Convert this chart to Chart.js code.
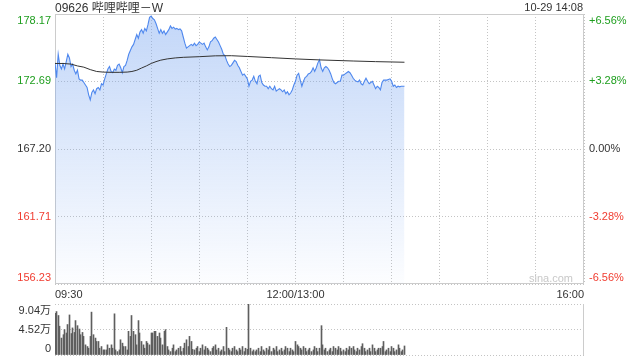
<!DOCTYPE html>
<html><head><meta charset="utf-8">
<script src="https://cdn.jsdelivr.net/npm/chart.js@4.4.1/dist/chart.umd.min.js"></script>
<style>
html,body{margin:0;padding:0;background:#fff;width:640px;height:360px;overflow:hidden;font-family:"Liberation Sans",Arial,"Noto Sans CJK SC",sans-serif;}
#title{position:absolute;left:55px;top:0px;font-size:12px;color:#333;line-height:16px;white-space:nowrap;}
#time{position:absolute;right:57px;top:0px;font-size:11px;color:#333;line-height:14px;white-space:nowrap;}
#wm{position:absolute;right:67px;top:272px;font-size:11px;color:#c8c8c8;line-height:12px;}
#c1{position:absolute;left:0;top:0}
#c2{position:absolute;left:0;top:300px}
</style></head><body>
<canvas id="c1" width="640" height="300"></canvas>
<canvas id="c2" width="640" height="60"></canvas>
<div id="title">09626 哔哩哔哩－W</div>
<div id="time">10-29 14:08</div>
<div id="wm">sina.com</div>
<script>
// ---- data ----
const prices = [
174.2,173.0,174.9,174.0,173.7,174.1,173.7,174.3,174.9,174.6,
173.9,174.1,173.6,173.3,173.6,172.9,172.8,172.8,172.6,172.4,
172.2,171.6,171.2,171.8,172.0,171.7,172.1,172.2,172.0,172.5,
172.4,172.9,173.3,173.7,173.9,173.5,173.4,173.7,173.6,174.0,
174.1,173.8,173.4,173.9,174.0,174.4,174.9,175.2,175.5,175.7,
176.1,176.5,176.2,176.7,176.9,176.6,177.0,176.8,177.3,177.9,
178.0,177.8,177.7,177.4,177.0,176.6,176.9,176.6,176.8,176.5,
176.7,176.9,177.2,177.0,177.1,176.95,177.0,176.9,176.95,176.8,
176.3,175.8,175.4,175.5,175.6,175.7,175.6,175.8,175.6,175.7,
175.9,175.8,175.7,175.8,175.5,175.25,175.5,175.9,176.0,176.2,
176.3,176.1,175.9,175.6,175.3,174.9,174.8,174.4,174.1,173.9,
174.0,174.2,174.4,174.3,174.0,173.8,173.5,173.2,173.3,173.1,
172.9,172.3,172.7,172.8,173.1,172.7,172.5,173.1,173.2,172.6,
172.4,172.3,172.3,172.1,172.3,172.1,172.0,172.3,171.9,172.0,
172.1,172.0,171.85,172.0,171.7,171.85,171.6,171.75,172.0,172.4,
172.7,173.2,173.35,172.8,172.3,172.7,173.0,173.1,173.3,173.35,
173.5,173.8,173.5,173.8,174.2,174.45,173.8,173.5,173.8,173.9,
173.8,173.6,173.3,172.9,172.6,172.5,172.6,172.7,172.7,173.2,
173.2,173.3,173.4,173.5,173.4,173.2,172.95,172.8,172.7,172.65,
172.8,172.5,172.4,172.7,172.95,172.7,172.5,172.6,172.7,172.4,
172.1,172.3,172.2,172.0,172.6,172.8,172.8,172.8,172.85,172.9,
172.7,172.3,172.4,172.2,172.3,172.25,172.3,172.3,172.3];

const avgMinutes = [0,5,10,14,18,22,26,30,35,40,45,48,51,54,57,60,63,66,70,75,80,90,100,110,120,135,150,165,186,200,218];
const avgPrices  = [174.15,174.15,174.1,173.95,173.85,173.65,173.5,173.45,173.43,173.43,173.45,173.5,173.6,173.78,173.95,174.15,174.3,174.42,174.52,174.6,174.65,174.7,174.77,174.78,174.72,174.62,174.52,174.44,174.35,174.3,174.25];

const volumes = [
7.4,7.7,7.0,5.1,3.0,3.6,4.5,3.9,5.4,7.1,
3.8,4.8,4.0,6.1,5.2,4.6,3.6,4.0,3.3,1.8,
1.5,1.2,3.3,7.6,3.6,3.0,2.4,2.4,1.2,1.5,
0.9,0.9,0.9,1.8,1.2,1.8,1.2,7.3,0.9,0.6,
0.9,2.7,2.1,1.5,1.5,0.9,4.2,3.3,7.0,4.2,
3.6,1.8,6.1,3.9,2.4,1.8,1.2,2.4,2.1,1.8,
3.9,3.9,4.2,4.2,3.3,3.9,3.0,1.8,4.2,4.5,
1.5,0.9,0.6,1.2,1.8,0.6,0.9,1.2,1.5,0.6,
1.2,2.1,2.7,1.5,3.3,2.4,1.0,0.9,1.2,1.5,
0.6,1.2,1.8,0.9,1.5,1.2,0.9,0.6,1.2,1.5,
1.8,0.9,1.2,0.6,0.9,1.5,0.6,4.9,1.2,0.9,
0.6,1.2,1.5,0.9,0.6,1.2,0.9,1.5,0.6,1.2,
1.0,9.04,1.2,0.6,0.9,0.6,0.9,1.2,0.6,1.5,
0.9,0.6,1.2,0.9,1.5,0.6,1.2,0.9,1.5,0.6,
0.9,1.2,0.6,0.9,1.5,1.2,0.6,1.2,0.9,0.6,
2.4,1.8,1.5,1.2,0.9,1.5,1.2,0.6,0.9,1.2,
0.6,0.9,1.5,1.2,0.6,1.2,5.2,1.8,0.9,1.2,
0.6,0.9,1.2,0.6,1.5,1.2,0.9,1.5,1.2,0.6,
0.9,0.6,1.2,0.9,1.5,1.2,1.5,0.9,0.6,1.2,
0.9,1.5,2.0,1.2,0.6,0.9,1.2,0.6,1.8,1.2,
0.6,0.9,1.2,1.2,1.5,2.4,0.6,0.9,1.2,0.6,
1.5,1.2,0.6,0.9,1.8,1.2,0.6,0.9,1.6];

const priceTicks = [156.23,161.71,167.20,172.69,178.17];
const leftTickLabels = ['156.23','161.71','167.20','172.69','178.17'];
const rightTickLabels = ['-6.56%','-3.28%','0.00%','+3.28%','+6.56%'];
const tickColors = ['#f03c30','#f03c30','#333333','#1e9e1e','#1e9e1e'];
const gridMinutes = [0,30,60,90,120,150,180,210,240,270,300,330];
const timeTickMinutes = [0,150,330];
const timeTickLabels = ['09:30','12:00/13:00','16:00'];
const volTicks = [0,4.52,9.04];
const volTickLabels = ['0','4.52万','9.04万'];
const volTickColors = ['#333333','#333333','#333333'];

// ---- rendering ----
const FONT = '"Liberation Sans", Arial, "Noto Sans CJK SC", sans-serif';
Chart.defaults.font.family = FONT;
Chart.defaults.font.size = 11;

const axisText = {
  id: 'axisText',
  afterDraw(chart, args, opts) {
    if (!opts || !opts.sets) return;
    const ctx = chart.ctx, a = chart.chartArea, sc = chart.scales[opts.scale];
    ctx.save();
    ctx.font = '11px ' + FONT;
    ctx.textBaseline = 'middle';
    opts.sets.forEach(set => {
      ctx.textAlign = set.side === 'left' ? 'right' : 'left';
      const x = set.side === 'left' ? a.left - 4 : a.right + 5;
      opts.values.forEach((v, i) => {
        let y = sc.getPixelForValue(v);
        y = Math.min(Math.max(y, a.top + 6.5), a.bottom - 6.5);
        ctx.fillStyle = set.colors[i];
        ctx.fillText(set.labels[i], x, y);
      });
    });
    ctx.restore();
  }
};
const frame = {
  id: 'frame',
  beforeDatasetsDraw(chart, args, opts) {
    if (!opts || !opts.mode) return;
    const ctx = chart.ctx, a = chart.chartArea;
    ctx.save();
    ctx.strokeStyle = '#cccccc';
    ctx.lineWidth = 1;
    ctx.setLineDash([]);
    if (opts.mode === 'box') {
      ctx.strokeRect(Math.round(a.left) + 0.5, Math.round(a.top) + 0.5, Math.round(a.right - a.left) - 1, Math.round(a.bottom - a.top) - 1);
    } else {
      ctx.beginPath();
      ctx.moveTo(Math.round(a.right) - 0.5, a.top);
      ctx.lineTo(Math.round(a.right) - 0.5, a.bottom);
      ctx.stroke();
    }
    ctx.restore();
  }
};
// snap 1px volume bars to whole pixels so they render crisp
const snapBars = {
  id: 'snapBars',
  afterDatasetsUpdate(chart, args, opts) {
    if (!opts || !opts.on) return;
    chart.getDatasetMeta(0).data.forEach(el => { el.x = Math.floor(el.x) + 0.5; });
  }
};
Chart.register(axisText, frame, snapBars);

const pricePts = prices.map((v, i) => ({x: i, y: v}));
const avgPts = avgMinutes.map((m, i) => ({x: m, y: avgPrices[i]}));
const volPts = volumes.map((v, i) => ({x: i, y: v}));

new Chart(document.getElementById('c1'), {
  type: 'line',
  data: { datasets: [
    { data: avgPts, borderColor: '#333333', borderWidth: 1, pointRadius: 0, fill: false, tension: 0 },
    { data: pricePts, borderColor: '#4f88ee', borderWidth: 1.1, pointRadius: 0, tension: 0, fill: 'start',
      backgroundColor: c => {
        const a = c.chart.chartArea;
        if (!a) return 'rgba(120,165,240,0.3)';
        const g = c.chart.ctx.createLinearGradient(0, a.top, 0, a.bottom);
        g.addColorStop(0, 'rgba(120,165,240,0.45)');
        g.addColorStop(1, 'rgba(120,165,240,0.02)');
        return g;
      } }
  ]},
  options: {
    responsive: false, animation: false, events: [],
    layout: { padding: { top: 14, left: 0, right: 0, bottom: 0 } },
    plugins: { legend: { display: false }, tooltip: { enabled: false },
      axisText: { scale: 'y', values: priceTicks, sets: [
        { side: 'left', labels: leftTickLabels, colors: tickColors },
        { side: 'right', labels: rightTickLabels, colors: tickColors } ] },
      frame: { mode: 'box' } },
    scales: {
      x: { type: 'linear', min: 0, max: 330,
        afterBuildTicks: s => { s.ticks = gridMinutes.map(v => ({value: v})); },
        afterFit: s => { s.height = 16; },
        ticks: { autoSkip: false, maxRotation: 0, minRotation: 0, align: 'inner', padding: 4, color: '#333333',
          callback: v => { const k = timeTickMinutes.indexOf(v); return k >= 0 ? timeTickLabels[k] : ''; } },
        grid: { color: '#c4c4c4', drawTicks: false, lineWidth: 1 },
        border: { display: false, dash: [1, 2] } },
      y: { position: 'left', min: priceTicks[0], max: priceTicks[4],
        afterBuildTicks: s => { s.ticks = priceTicks.map(v => ({value: v})); },
        afterFit: s => { s.width = 55; },
        ticks: { display: false },
        grid: { color: '#c4c4c4', drawTicks: false, lineWidth: 1 },
        border: { display: false, dash: [1, 2] } },
      yr: { position: 'right', min: priceTicks[0], max: priceTicks[4],
        afterFit: s => { s.width = 56; },
        ticks: { display: false },
        grid: { display: false },
        border: { display: false } }
    }
  }
});

new Chart(document.getElementById('c2'), {
  type: 'bar',
  data: { datasets: [ { data: volPts, backgroundColor: '#5e5e5e', barThickness: 1, grouped: false } ] },
  options: {
    responsive: false, animation: false, events: [],
    layout: { padding: { top: 4, left: 0, right: 56, bottom: 5 } },
    plugins: { legend: { display: false }, tooltip: { enabled: false },
      axisText: { scale: 'y', values: volTicks, sets: [ { side: 'left', labels: volTickLabels, colors: volTickColors } ] },
      frame: { mode: 'right' }, snapBars: { on: true } },
    scales: {
      x: { type: 'linear', min: 0, max: 330, display: false, offset: false },
      y: { position: 'left', min: 0, max: volTicks[2],
        afterBuildTicks: s => { s.ticks = volTicks.map(v => ({value: v})); },
        afterFit: s => { s.width = 55; },
        ticks: { display: false },
        grid: { color: '#c4c4c4', drawTicks: false, lineWidth: 1 },
        border: { display: false, dash: [1, 2] } }
    }
  }
});
</script>
</body></html>
